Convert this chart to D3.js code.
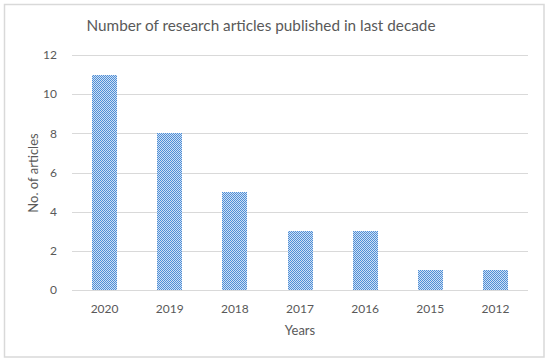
<!DOCTYPE html>
<html><head><meta charset="utf-8">
<script src="https://cdn.jsdelivr.net/npm/d3@7"></script>
<style>body{margin:0;background:#fff}</style>
</head><body>
<script>
const categories = ["2020","2019","2018","2017","2016","2015","2012"];
const values = [11, 8, 5, 3, 3, 1, 1];
const yTicks = [0, 2, 4, 6, 8, 10, 12];
const title = "Number of research articles published in last decade";
const xTitle = "Years";
const yTitle = "No. of articles";

const W = 550, H = 361;
const svg = d3.select("body").append("svg").attr("width", W).attr("height", H);
const font = "Lato, 'Open Sans', sans-serif";
const txt = "#595959";

const defs = svg.append("defs");
const pat = defs.append("pattern").attr("id","chk").attr("patternUnits","userSpaceOnUse")
  .attr("width",2).attr("height",2);
pat.append("rect").attr("width",2).attr("height",2).attr("fill","#cfe0f5");
pat.append("rect").attr("x",0).attr("y",0).attr("width",1).attr("height",1).attr("fill","#4f8fd6");
pat.append("rect").attr("x",1).attr("y",1).attr("width",1).attr("height",1).attr("fill","#4f8fd6");

svg.append("rect").attr("x",4.5).attr("y",4.5).attr("width",539.5).attr("height",352.5)
  .attr("fill","#fff").attr("stroke","#d9d9d9").attr("stroke-width",1.5);

const x = d3.scaleBand().domain(categories).range([72, 528]).paddingInner(0.62).paddingOuter(0.31);
const y = d3.scaleLinear().domain([0, 12]).range([290, 55]);

svg.append("g").selectAll("line").data(yTicks).join("line")
  .attr("x1",72).attr("x2",528).attr("y1",d=>Math.round(y(d))+0.5).attr("y2",d=>Math.round(y(d))+0.5)
  .attr("stroke","#d9d9d9").attr("stroke-width",1);

svg.append("g").selectAll("rect").data(values).join("rect")
  .attr("x",(d,i)=>Math.round(x(categories[i]))).attr("width",Math.round(x.bandwidth()))
  .attr("y",d=>Math.round(y(d))).attr("height",d=>Math.round(y(0))-Math.round(y(d))).attr("fill","url(#chk)");

svg.append("g").selectAll("text").data(yTicks).join("text")
  .attr("x",57).attr("y",d=>y(d)).attr("dy","0.35em").attr("text-anchor","end")
  .attr("font-family",font).attr("font-size",12).attr("fill",txt).text(d=>d);

svg.append("g").selectAll("text").data(categories).join("text")
  .attr("x",d=>x(d)+x.bandwidth()/2).attr("y",309).attr("dy","0.35em").attr("text-anchor","middle")
  .attr("font-family",font).attr("font-size",12).attr("fill",txt).text(d=>d);

svg.append("text").attr("x",261).attr("y",26).attr("dy","0.35em").attr("text-anchor","middle")
  .attr("font-family",font).attr("font-size",15.3).attr("fill",txt).text(title);

svg.append("text").attr("x",300).attr("y",330).attr("dy","0.35em").attr("text-anchor","middle")
  .attr("font-family",font).attr("font-size",13).attr("fill",txt).text(xTitle);

svg.append("text").attr("transform","translate(33,173) rotate(-90)").attr("dy","0.35em")
  .attr("text-anchor","middle").attr("font-family",font).attr("font-size",13).attr("fill",txt).text(yTitle);
</script>
</body></html>
